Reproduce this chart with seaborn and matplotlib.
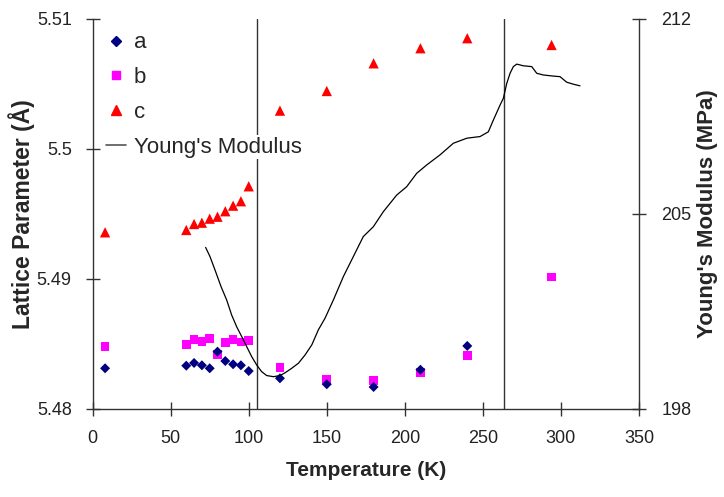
import numpy as np
import pandas as pd
import matplotlib
matplotlib.use("Agg")
import matplotlib.pyplot as plt
import seaborn as sns
from matplotlib.lines import Line2D

# ---- data ----
temp_lat = [8, 60, 65, 70, 75, 80, 85, 90, 95, 100, 120, 150, 180, 210, 240, 294]
a_vals = [5.48313, 5.48333, 5.48354, 5.48336, 5.48313, 5.48441, 5.48369, 5.48344,
          5.48336, 5.48292, 5.48236, 5.48190, 5.48169, 5.48302, 5.48485, np.nan]
b_vals = [5.48482, 5.48495, 5.48536, 5.48521, 5.48544, 5.48421, 5.48510, 5.48536,
          5.48515, 5.48528, 5.48318, 5.48228, 5.48221, 5.48282, 5.48413, 5.49015]
c_vals = [5.49359, 5.49377, 5.49423, 5.49433, 5.49464, 5.49479, 5.49521, 5.49564,
          5.49598, 5.49713, 5.50295, 5.50446, 5.50659, 5.50775, 5.50852, 5.50800]

ym_temp = [72.4, 75.2, 78.4, 82.3, 85.9, 89.1, 92.3, 95.5, 98.7, 101.9, 105.1, 108.3,
           111.5, 115.8, 120.1, 123.3, 127.5, 131.8, 136.1, 140.4, 144.6, 148.9, 154.2,
           160.6, 167.0, 173.4, 179.8, 186.2, 194.8, 201.2, 207.6, 214.0, 222.5, 231.1,
           239.7, 248.2, 253.5, 256.7, 261.0, 263.1, 265.3, 267.4, 269.5, 271.7, 275.9,
           281.3, 284.5, 288.7, 295.1, 299.4, 303.7, 307.9, 312.2]
ym_vals = [203.80, 203.47, 202.99, 202.39, 201.91, 201.37, 200.95, 200.60, 200.24,
           199.88, 199.58, 199.34, 199.20, 199.16, 199.20, 199.30, 199.46, 199.64,
           199.94, 200.30, 200.84, 201.26, 201.91, 202.75, 203.47, 204.19, 204.54,
           205.08, 205.68, 205.98, 206.46, 206.76, 207.12, 207.54, 207.72, 207.78,
           207.95, 208.37, 208.91, 209.15, 209.69, 210.05, 210.29, 210.38, 210.32,
           210.29, 210.05, 209.99, 209.95, 209.93, 209.73, 209.66, 209.60]

transitions = [105, 263.5]

x_ticks = [0, 50, 100, 150, 200, 250, 300, 350]
left_ticks = [5.48, 5.49, 5.50, 5.51]
left_labels = ["5.48", "5.49", "5.5", "5.51"]
right_ticks = [198, 205, 212]
right_labels = ["198", "205", "212"]

# ---- style ----
sns.set_style("white")
plt.rcParams["font.family"] = ["Liberation Sans", "DejaVu Sans"]
tick_font = dict(size=13)

fig = plt.figure(figsize=(7.24, 4.97), dpi=100)
ax = fig.add_axes([0.1279, 0.1771, 0.7547, 0.7847])
ax2 = ax.twinx()

df = pd.DataFrame({"T": temp_lat, "a": a_vals, "b": b_vals, "c": c_vals})
dym = pd.DataFrame({"T": ym_temp, "E": ym_vals})

for xv in transitions:
    ax.axvline(xv, color="#333333", lw=1.0, zorder=1)

sns.scatterplot(data=df, x="T", y="c", ax=ax, marker="^", color="#FF0000",
                s=55, edgecolor="none", zorder=3)
sns.scatterplot(data=df, x="T", y="b", ax=ax, marker="s", color="#FF00FF",
                s=38, edgecolor="none", zorder=3)
sns.scatterplot(data=df.dropna(subset=["a"]), x="T", y="a", ax=ax, marker="D",
                color="#000080", s=26, edgecolor="none", zorder=4)

sns.lineplot(data=dym, x="T", y="E", ax=ax2, color="black", lw=0.9, sort=False)

ax.set_xlim(0, 350)
ax.set_ylim(5.48, 5.51)
ax2.set_ylim(198, 212)

ax.set_xticks(x_ticks)
ax.set_xticklabels([str(t) for t in x_ticks], **tick_font)
ax.set_yticks(left_ticks)
ax.set_yticklabels(left_labels, **tick_font)
ax2.set_yticks(right_ticks)
ax2.set_yticklabels(right_labels, **tick_font)

for a_ in (ax, ax2):
    a_.spines["top"].set_visible(False)
    for s in a_.spines.values():
        s.set_color("#333333")
        s.set_linewidth(1.0)
ax.spines["right"].set_visible(False)
ax2.spines["left"].set_visible(False)
ax2.spines["bottom"].set_visible(False)

ax.tick_params(axis="both", direction="inout", length=10, width=1, color="#333333",
               pad=10, labelcolor="#222222", left=True, bottom=True)
ax2.tick_params(axis="y", direction="inout", length=10, width=1, color="#333333",
                pad=11, labelcolor="#222222", right=True)

ax.set_xlabel("Temperature (K)", fontsize=15, fontweight="bold", labelpad=10)
ax.set_ylabel("Lattice Parameter (Å)", fontsize=16.5, fontweight="bold", labelpad=1)
ax2.set_ylabel("Young's Modulus (MPa)", fontsize=16, fontweight="bold", labelpad=4)

handles = [
    Line2D([], [], ls="none", marker="D", color="#000080", markersize=5),
    Line2D([], [], ls="none", marker="s", color="#FF00FF", markersize=6),
    Line2D([], [], ls="none", marker="^", color="#FF0000", markersize=7),
    Line2D([], [], color="#555555", lw=1.2),
]
leg = ax2.legend(handles, ["a", "b", "c", "Young's Modulus"], loc="upper left",
                 bbox_to_anchor=(0.0, 1.0), frameon=False, fontsize=16,
                 handlelength=0.9, handletextpad=0.35, labelspacing=0.62,
                 borderaxespad=0.2)
leg.get_texts()[-1].set_bbox(dict(facecolor="white", edgecolor="none", pad=1))

fig.savefig("out.png", dpi=100)
